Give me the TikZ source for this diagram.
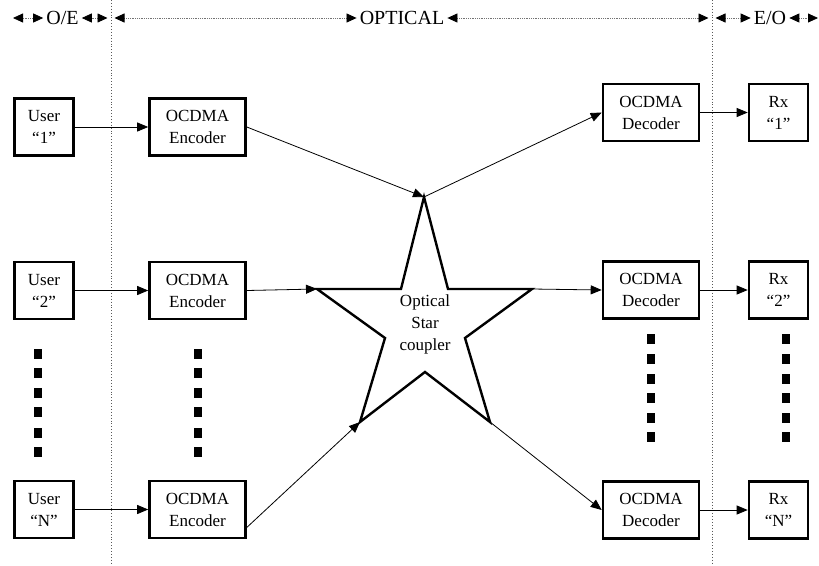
\documentclass[tikz,border=0pt]{standalone}
\usepackage{fontspec}
\setmainfont{Liberation Serif}
\usetikzlibrary{arrows.meta,calc}

\begin{document}
\begin{tikzpicture}[x=1pt,y=-1pt,
  blk/.style={draw,line width=2.6pt,align=center,inner sep=1pt,
    font=\fontsize{17}{22}\selectfont,minimum height=57pt},
  usr/.style={blk,minimum width=59pt},
  cod/.style={blk,minimum width=96pt},
  link/.style={-{Triangle[length=11pt,width=9pt]},line width=.8pt},
  sep/.style={dotted,line width=.9pt,draw=black!65},
  hdr/.style={{Triangle[length=10pt,width=9pt,color=black]}-{Triangle[length=10pt,width=9pt,color=black]},
    densely dotted,line width=.8pt,draw=black!55},
  hlbl/.style={font=\fontsize{20}{22}\selectfont,inner ysep=0pt,inner xsep=3pt}]
\useasboundingbox (0,0) rectangle (819,565);

% ============ domain separators and header ============
\draw[sep] (111,0) -- (111,565);
\draw[sep] (712,0) -- (712,565);

\node[hlbl] (oe) at (62.5,18) {O/E};
\node[hlbl] (opt) at (402,18) {OPTICAL};
\node[hlbl] (eo) at (770,18) {E/O};
\coordinate (h0) at (13,18);
\coordinate (h1) at (107.5,18);
\coordinate (h2) at (114.5,18);
\coordinate (h3) at (708.5,18);
\coordinate (h4) at (715.5,18);
\coordinate (h5) at (818,18);
\draw[hdr] (h0) -- (oe.west);
\draw[hdr] (oe.east) -- (h1);
\draw[hdr] (h2) -- (opt.west);
\draw[hdr] (opt.east) -- (h3);
\draw[hdr] (h4) -- (eo.west);
\draw[hdr] (eo.east) -- (h5);

% ============ transmitters ============
\node[usr] (u1) at (44,127) {User\\“1”};
\node[usr] (u2) at (44,290.5) {User\\“2”};
\node[usr] (uN) at (44,509.5) {User\\“N”};
\node[cod] (e1) at (197.5,127) {OCDMA\\Encoder};
\node[cod] (e2) at (197.5,290.5) {OCDMA\\Encoder};
\node[cod] (eN) at (197.5,509.5) {OCDMA\\Encoder};

% ============ receivers ============
\node[cod] (d1) at (651,112.5) {OCDMA\\Decoder};
\node[cod] (d2) at (651,290) {OCDMA\\Decoder};
\node[cod] (dN) at (651,510) {OCDMA\\Decoder};
\node[usr] (r1) at (778.5,112.5) {Rx\\“1”};
\node[usr] (r2) at (778.5,290) {Rx\\“2”};
\node[usr] (rN) at (778.5,510) {Rx\\“N”};

% ============ star coupler ============
\coordinate (sT) at (424,197);
\coordinate (sTR) at (448,289);
\coordinate (sR) at (532,289);
\coordinate (sRi) at (465,338);
\coordinate (sBR) at (490,422);
\coordinate (sB) at (425,372);
\coordinate (sBL) at (360,422);
\coordinate (sLi) at (385,338);
\coordinate (sL) at (317,289);
\coordinate (sTL) at (401,289);
\draw[line width=2.4pt,line join=miter]
  (sT)--(sTR)--(sR)--(sRi)--(sBR)--(sB)--(sBL)--(sLi)--(sL)--(sTL)--cycle;
\node[align=center,font=\fontsize{17}{22}\selectfont] (cpl) at (425,324)
  {Optical\\Star\\coupler};

% ============ vertical ellipses ============
\foreach \x in {38,198}
  \foreach \y in {354,373,393,412,433,452}
    \fill (\x-4,\y-5) rectangle ++(8,10);
\foreach \x in {651,786}
  \foreach \y in {339,359,379,398,418,437}
    \fill (\x-4,\y-5) rectangle ++(8,10);

% ============ links ============
\foreach \a/\b in {u1/e1,u2/e2,uN/eN,d1/r1,d2/r2,dN/rN}
  \draw[link] (\a) -- (\b);
\draw[link] (e1.east) -- (sT);
\draw[link] (sT) -- (d1.west);
\draw[link] (e2.east) -- (sL);
\draw[link] (sR) -- (d2.west);
\draw[link] (eN.-20) -- (sBL);
\draw[link] (sBR) -- (dN.west);

\end{tikzpicture}
\end{document}
